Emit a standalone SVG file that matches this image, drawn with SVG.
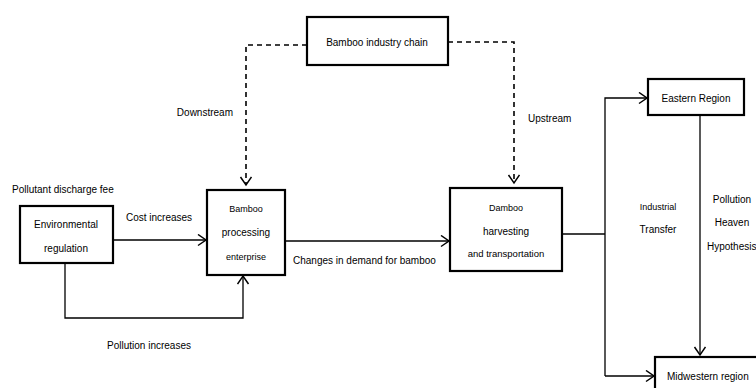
<svg xmlns="http://www.w3.org/2000/svg" width="756" height="388" viewBox="0 0 756 388">
<style>
.box{fill:#fff;stroke:#000;stroke-width:2.2}
.t{font-family:"Liberation Sans",Arial,sans-serif;font-size:10px;fill:#000}
.c{text-anchor:middle}
.ln{fill:none;stroke:#000;stroke-width:1.3}
.dash{fill:none;stroke:#000;stroke-width:1.6;stroke-dasharray:5 4}
</style>
<defs>
<marker id="arr" markerUnits="userSpaceOnUse" markerWidth="14" markerHeight="14" refX="9" refY="6" orient="auto">
<path d="M1,0.5 L9,6 L1,11.5" fill="none" stroke="#000" stroke-width="1.5"/>
</marker>
</defs>
<g id="connectors">
<path class="dash" d="M307,45 H246 V185" marker-end="url(#arr)"/>
<path class="dash" d="M448,42 H514 V183" marker-end="url(#arr)"/>
<path class="ln" d="M113,240 H206" marker-end="url(#arr)"/>
<path class="ln" d="M65,263 V318 H243 V276" marker-end="url(#arr)"/>
<path class="ln" d="M285,241 H449" marker-end="url(#arr)"/>
<path class="ln" d="M562,234 H605"/>
<path class="ln" d="M605,376 V98 H647" marker-end="url(#arr)"/>
<path class="ln" d="M605,376 H654" marker-end="url(#arr)"/>
<path class="ln" d="M700,115 V355" marker-end="url(#arr)"/>
</g>
<g id="chain">
<rect class="box" x="307" y="17" width="141" height="48"/>
<text class="t c" x="377" y="46">Bamboo industry chain</text>
</g>
<g id="envreg">
<rect class="box" x="20" y="206" width="93" height="57"/>
<text class="t c" x="66" y="228">Environmental</text>
<text class="t c" x="66" y="252">regulation</text>
</g>
<g id="processing">
<rect class="box" x="207" y="190" width="78" height="85"/>
<text class="t c" x="246" y="212" style="font-size:9px">Bamboo</text>
<text class="t c" x="246" y="236">processing</text>
<text class="t c" x="246" y="260" style="font-size:9px">enterprise</text>
</g>
<g id="harvesting">
<rect class="box" x="450" y="188" width="112" height="83"/>
<text class="t c" x="506" y="211" style="font-size:9px">Damboo</text>
<text class="t c" x="506" y="235">harvesting</text>
<text class="t c" x="506" y="257" style="font-size:9.5px">and transportation</text>
</g>
<g id="eastern">
<rect class="box" x="648" y="79" width="96" height="36"/>
<text class="t c" x="696" y="102">Eastern Region</text>
</g>
<g id="midwestern">
<rect class="box" x="655" y="357" width="110" height="40"/>
<text class="t" x="667" y="380">Midwestern region</text>
</g>
<g id="labels">
<text class="t" x="12" y="193">Pollutant discharge fee</text>
<text class="t c" x="159" y="221">Cost increases</text>
<text class="t c" x="149" y="349">Pollution increases</text>
<text class="t" x="233" y="116" text-anchor="end">Downstream</text>
<text class="t" x="528" y="122">Upstream</text>
<text class="t" x="293" y="264">Changes in demand for bamboo</text>
<text class="t c" x="658" y="210" style="font-size:9px">Industrial</text>
<text class="t c" x="658" y="233">Transfer</text>
<text class="t c" x="732" y="203">Pollution</text>
<text class="t c" x="732" y="226">Heaven</text>
<text class="t" x="707" y="250">Hypothesis</text>
</g>
</svg>
